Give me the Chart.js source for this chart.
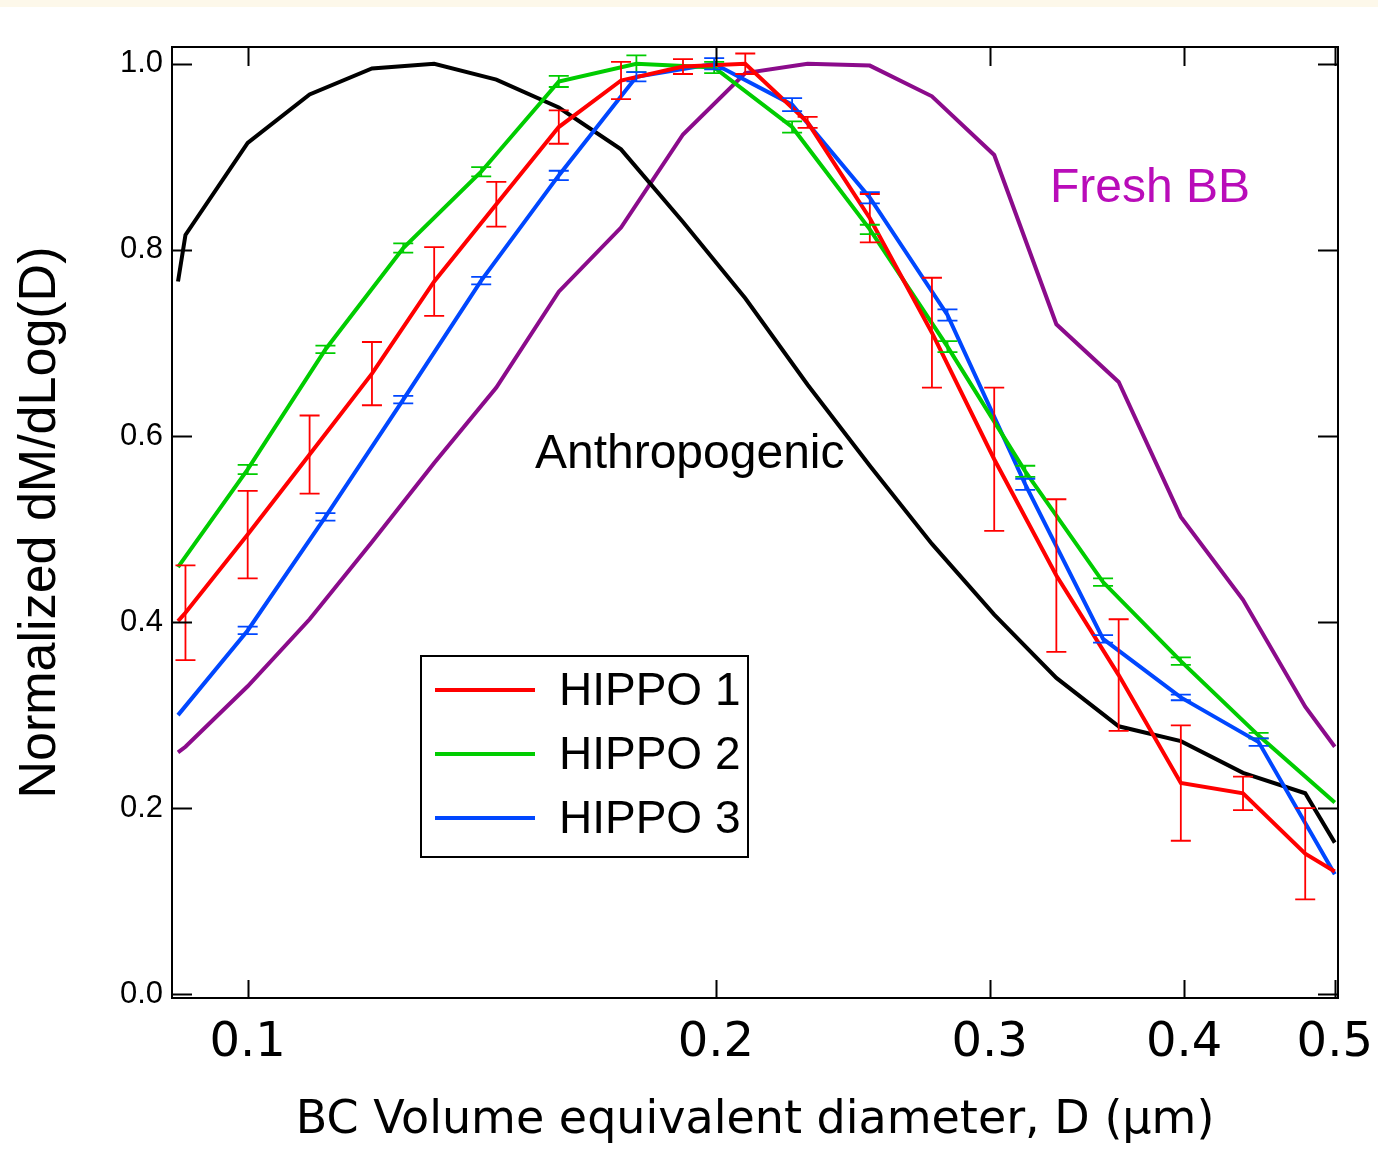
<!DOCTYPE html>
<html><head><meta charset="utf-8">
<script src="https://cdn.jsdelivr.net/npm/chart.js@4.4.0/dist/chart.umd.min.js"></script>
<style>html,body{margin:0;padding:0;background:#fff;overflow:hidden}#wrap{width:1378px;height:1149px;position:relative}</style>
</head><body><div id="wrap"><canvas id="c" width="1378" height="1149"></canvas></div>
<script>
// ---- data ----
const diameterModel = [0.0902, 0.0912, 0.1, 0.1096, 0.1202, 0.1318, 0.1445, 0.1585, 0.1738, 0.1905, 0.2089, 0.2291, 0.2512, 0.2754, 0.3020, 0.3311, 0.3631, 0.3981, 0.4365, 0.4786, 0.5];
const anthropogenic = [0.766, 0.816, 0.915, 0.967, 0.995, 1.0, 0.983, 0.953, 0.908, 0.830, 0.748, 0.655, 0.568, 0.484, 0.408, 0.340, 0.288, 0.272, 0.238, 0.216, 0.163];
const freshBB = [0.260, 0.266, 0.331, 0.403, 0.486, 0.571, 0.652, 0.755, 0.824, 0.924, 0.990, 1.0, 0.998, 0.965, 0.902, 0.720, 0.658, 0.513, 0.424, 0.309, 0.266];

const diameterHippo1 = [0.0902, 0.0912, 0.1, 0.1096, 0.1202, 0.1318, 0.1445, 0.1585, 0.1738, 0.1905, 0.2089, 0.2291, 0.2512, 0.2754, 0.3020, 0.3311, 0.3631, 0.3981, 0.4365, 0.4786, 0.5];
const hippo1 = [0.401, 0.410, 0.494, 0.580, 0.667, 0.766, 0.849, 0.932, 0.982, 0.997, 1.0, 0.937, 0.834, 0.711, 0.575, 0.450, 0.343, 0.227, 0.216, 0.151, 0.132];
const hippo1Err = [null, 0.051, 0.047, 0.042, 0.034, 0.037, 0.024, 0.018, 0.020, 0.008, 0.011, 0.006, 0.026, 0.059, 0.077, 0.082, 0.060, 0.062, 0.018, 0.049, null];

const diameterHippo23 = [0.0902, 0.1, 0.1122, 0.1259, 0.1413, 0.1585, 0.1778, 0.1995, 0.2239, 0.2512, 0.2818, 0.3162, 0.3548, 0.3981, 0.4467, 0.5];
const hippo2 = [0.459, 0.564, 0.693, 0.802, 0.884, 0.981, 1.0, 0.996, 0.932, 0.822, 0.696, 0.562, 0.443, 0.358, 0.278, 0.206];
const hippo2Err = [null, 0.005, 0.004, 0.005, 0.005, 0.006, 0.009, 0.006, 0.006, 0.005, 0.006, 0.006, 0.004, 0.004, 0.003, null];
const hippo3 = [0.300, 0.391, 0.513, 0.639, 0.767, 0.880, 0.986, 1.0, 0.956, 0.856, 0.730, 0.548, 0.382, 0.319, 0.271, 0.129];
const hippo3Err = [null, 0.004, 0.004, 0.004, 0.004, 0.005, 0.005, 0.006, 0.007, 0.006, 0.006, 0.006, 0.004, 0.003, 0.004, null];

const xTickValues = [0.1, 0.2, 0.3, 0.4, 0.5];
const yTickValues = [0.0, 0.2, 0.4, 0.6, 0.8, 1.0];

const xTitle = 'BC Volume equivalent diameter, D (\u03BCm)';
const yTitle = 'Normalized dM/dLog(D)';

const toPts = (xs, ys) => xs.map((x, i) => ({x: x, y: ys[i]}));

// ---- plugins ----
const bgPlugin = {
  id: 'bg',
  beforeDraw(chart) {
    const {ctx, width, height} = chart;
    ctx.save();
    ctx.fillStyle = '#ffffff'; ctx.fillRect(0, 0, width, height);
    ctx.fillStyle = '#fdf8ea'; ctx.fillRect(0, 0, width, 7);
    ctx.restore();
  }
};

const errorBarPlugin = {
  id: 'errorBars',
  afterDatasetsDraw(chart) {
    const {ctx, scales: {x, y}} = chart;
    ctx.save();
    chart.data.datasets.forEach((ds, i) => {
      if (!ds.errors || !chart.isDatasetVisible(i)) return;
      ctx.strokeStyle = ds.borderColor;
      ctx.lineWidth = 1.8;
      ds.data.forEach((p, j) => {
        const e = ds.errors[j];
        if (e == null) return;
        const px = x.getPixelForValue(p.x);
        const y1 = y.getPixelForValue(p.y + e);
        const y2 = y.getPixelForValue(p.y - e);
        ctx.beginPath();
        ctx.moveTo(px, y1); ctx.lineTo(px, y2);
        ctx.moveTo(px - 10, y1); ctx.lineTo(px + 10, y1);
        ctx.moveTo(px - 10, y2); ctx.lineTo(px + 10, y2);
        ctx.stroke();
      });
    });
    ctx.restore();
  }
};

const framePlugin = {
  id: 'frame',
  afterDraw(chart) {
    const {ctx, chartArea: a, scales: {x, y}} = chart;
    ctx.save();
    ctx.strokeStyle = '#000';
    ctx.lineWidth = 2;
    ctx.strokeRect(a.left, a.top, a.right - a.left, a.bottom - a.top);
    ctx.beginPath();
    yTickValues.forEach(v => {
      const py = Math.round(y.getPixelForValue(v)) + 0.5;
      ctx.moveTo(a.left, py); ctx.lineTo(a.left + 20, py);
      ctx.moveTo(a.right, py); ctx.lineTo(a.right - 20, py);
    });
    xTickValues.forEach(v => {
      const px = Math.round(x.getPixelForValue(v)) + 0.5;
      ctx.moveTo(px, a.top); ctx.lineTo(px, a.top + 19);
      ctx.moveTo(px, a.bottom); ctx.lineTo(px, a.bottom - 18);
    });
    ctx.stroke();
    ctx.restore();
  }
};

const annotationPlugin = {
  id: 'annotations',
  afterDraw(chart) {
    const {ctx, scales: {x, y}} = chart;
    ctx.save();
    ctx.textBaseline = 'alphabetic';
    ctx.textAlign = 'left';
    ctx.font = '48px "Liberation Sans", Arial, sans-serif';
    ctx.fillStyle = '#000';
    ctx.fillText('Anthropogenic', x.getPixelForValue(0.153), y.getPixelForValue(0.566));
    ctx.fillStyle = '#b90cb9';
    ctx.font = '48px "Liberation Sans", Arial, sans-serif';
    ctx.fillText('Fresh BB', x.getPixelForValue(0.328), y.getPixelForValue(0.851));

    // legend box
    const L = 421, T = 656, W = 327, H = 201;
    ctx.fillStyle = '#fff';
    ctx.fillRect(L, T, W, H);
    ctx.strokeStyle = '#000';
    ctx.lineWidth = 2;
    ctx.strokeRect(L, T, W, H);
    const items = chart.data.datasets.filter(d => d.inLegend);
    ctx.font = '46px "Liberation Sans", Arial, sans-serif';
    ctx.textBaseline = 'middle';
    items.forEach((d, i) => {
      const cy = 690 + i * 64;
      ctx.strokeStyle = d.borderColor;
      ctx.lineWidth = 4;
      ctx.beginPath(); ctx.moveTo(435, cy); ctx.lineTo(535, cy); ctx.stroke();
      ctx.fillStyle = '#000';
      ctx.fillText(d.label, 559, cy + 2);
    });
    ctx.restore();
  }
};

// ---- chart ----
const chart = new Chart(document.getElementById('c'), {
  type: 'line',
  data: {
    datasets: [
      {label: 'HIPPO 1', data: toPts(diameterHippo1, hippo1), errors: hippo1Err, borderColor: '#ff0000', inLegend: true},
      {label: 'HIPPO 2', data: toPts(diameterHippo23, hippo2), errors: hippo2Err, borderColor: '#00cc00', inLegend: true},
      {label: 'HIPPO 3', data: toPts(diameterHippo23, hippo3), errors: hippo3Err, borderColor: '#0047ff', inLegend: true},
      {label: 'Anthropogenic', data: toPts(diameterModel, anthropogenic), borderColor: '#000000'},
      {label: 'Fresh BB', data: toPts(diameterModel, freshBB), borderColor: '#8b0b8b'}
    ].map(d => Object.assign({borderWidth: 4, pointRadius: 0, tension: 0, fill: false, borderJoinStyle: 'miter'}, d))
  },
  options: {
    responsive: false,
    animation: false,
    devicePixelRatio: 1,
    layout: {padding: {left: 0, top: 47, right: 40, bottom: 0}},
    plugins: {legend: {display: false}, tooltip: {enabled: false}},
    scales: {
      x: {
        type: 'logarithmic',
        min: 0.0894, max: 0.5024,
        grid: {display: false, drawTicks: false},
        border: {display: false},
        afterBuildTicks: s => { s.ticks = xTickValues.map(v => ({value: v})); },
        afterFit: s => { s.height = 151; s.paddingLeft = 0; s.paddingRight = 0; },
        ticks: {
          autoSkip: false, maxRotation: 0, padding: 17, color: '#000',
          font: {family: '"DejaVu Sans", sans-serif', size: 48},
          callback: v => v.toFixed(1)
        },
        title: {display: true, text: xTitle, color: '#000', padding: {top: 0, bottom: 0},
          font: {family: '"DejaVu Sans", sans-serif', size: 46, lineHeight: 1.2}}
      },
      y: {
        type: 'linear',
        min: -0.004, max: 1.018,
        grid: {display: false, drawTicks: false},
        border: {display: false},
        afterBuildTicks: s => { s.ticks = yTickValues.map(v => ({value: v})); },
        afterFit: s => { s.width = 172; s.paddingTop = 0; s.paddingBottom = 0; },
        ticks: {
          padding: 9, color: '#000',
          font: {family: '"Liberation Sans", Arial, sans-serif', size: 31},
          callback: v => v.toFixed(1)
        },
        title: {display: true, text: yTitle, color: '#000', padding: {top: 9, bottom: 0},
          font: {family: '"Liberation Sans", Arial, sans-serif', size: 52, lineHeight: 1.2}}
      }
    }
  },
  plugins: [bgPlugin, errorBarPlugin, framePlugin, annotationPlugin]
});
</script></body></html>
